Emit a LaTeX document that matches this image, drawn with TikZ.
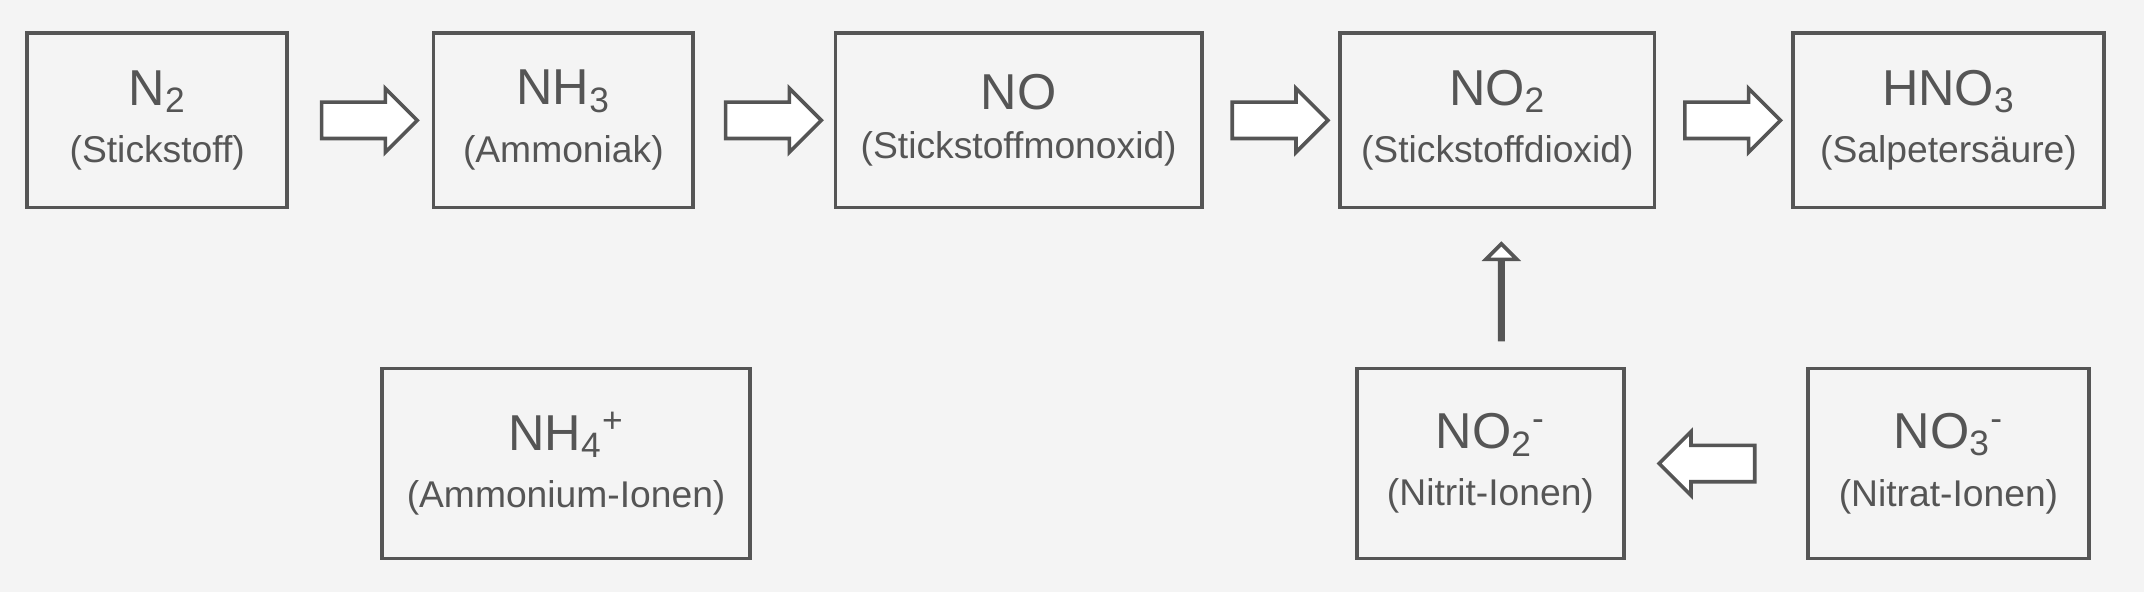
\documentclass[tikz,border=0pt]{standalone}
\usepackage{fontspec}
\setmainfont{Liberation Sans}
\usetikzlibrary{shapes.arrows,calc}
\definecolor{linegray}{HTML}{555555}
\definecolor{bggray}{HTML}{F4F4F4}
\tikzset{
  box/.style={draw=linegray,line width=1.6pt,minimum width=#1,minimum height=2.55cm,
              align=center,text=linegray,inner sep=0pt},
  box/.default=3.8cm,
  conv/.style={single arrow,draw=linegray,line width=1.5pt,fill=white,
               minimum height=1.4cm,minimum width=0pt,single arrow head extend=0.2cm,
               inner xsep=0pt,inner ysep=0.24cm,shape border rotate=#1},
  conv/.default=0
}
\newcommand{\formel}[2]{{\fontsize{21}{24}\selectfont #1}\\[0.3cm]{\fontsize{15.5}{18}\selectfont(#2)}}
\begin{document}
\begin{tikzpicture}[x=0.02cm,y=-0.02cm]
  \fill[bggray] (0,0) rectangle (1568,433);
  \useasboundingbox (0,0) rectangle (1568,433);

  % obere Reihe
  \node[box] (n2) at (115,88) {\formel{N\textsubscript{2}}{Stickstoff}};
  \node[box] (nh3) at (412,88) {\formel{NH\textsubscript{3}}{Ammoniak}};
  \node[box=5.36cm] (no) at (745,88) {\formel{NO}{Stickstoffmonoxid}};
  \node[box=4.6cm] (no2) at (1095,88) {\formel{NO\textsubscript{2}}{Stickstoffdioxid}};
  \node[box=4.56cm] (hno3) at (1425,88) {\formel{HNO\textsubscript{3}}{Salpetersäure}};

  % untere Reihe
  \node[box=5.38cm,minimum height=2.78cm] (nh4) at (414,339)
    {\formel{NH\textsubscript{4}\textsuperscript{+}}{Ammonium-Ionen}};
  \node[box=3.9cm,minimum height=2.78cm] (nitrit) at (1090,339)
    {\formel{NO\textsubscript{2}\textsuperscript{-}}{Nitrit-Ionen}};
  \node[box=4.1cm,minimum height=2.78cm] (nitrat) at (1425,339)
    {\formel{NO\textsubscript{3}\textsuperscript{-}}{Nitrat-Ionen}};

  % Pfeile
  \node[conv] (a1) at ($(n2.east)!0.5!(nh3.west)$) {};
  \node[conv] (a2) at ($(nh3.east)!0.5!(no.west)$) {};
  \node[conv] (a3) at ($(no.east)!0.5!(no2.west)$) {};
  \node[conv] (a4) at ($(no2.east)!0.5!(hno3.west)$) {};
  \node[conv=90] (a5) at (1098,214) {};
  \node[conv=180] (a6) at ($(nitrat.west)!0.5!(nitrit.east)$) {};
\end{tikzpicture}
\end{document}
